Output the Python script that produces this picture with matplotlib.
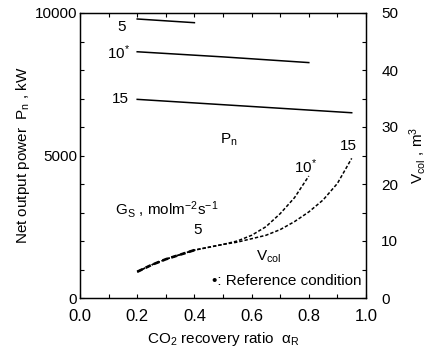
import matplotlib
matplotlib.use("Agg")
import matplotlib.pyplot as plt

plt.rcParams['font.family'] = ['Liberation Sans', 'DejaVu Sans']
plt.rcParams['mathtext.fontset'] = 'custom'
plt.rcParams['mathtext.rm'] = 'Liberation Sans'
plt.rcParams['mathtext.it'] = 'Liberation Sans'
plt.rcParams['mathtext.sf'] = 'Liberation Sans'

# Net output power Pn (kW) vs CO2 recovery ratio, for Gs = 5, 10, 15
pn_x5 = [0.2, 0.4]
pn_5 = [9790, 9660]
pn_x10 = [0.2, 0.5, 0.8]
pn_10 = [8640, 8460, 8260]
pn_x15 = [0.2, 0.6, 0.95]
pn_15 = [6970, 6720, 6500]

# Column volume Vcol (m3)
v_x5 = [0.2, 0.25, 0.3, 0.35, 0.4]
v_5 = [4.6, 5.8, 6.8, 7.6, 8.4]
v_x10 = [0.2, 0.25, 0.3, 0.35, 0.4, 0.45, 0.5, 0.55, 0.6, 0.65, 0.7, 0.75, 0.8]
v_10 = [4.6, 5.8, 6.8, 7.6, 8.4, 8.9, 9.4, 10.0, 11.0, 12.5, 14.8, 17.6, 21.4]
v_x15 = [0.2, 0.25, 0.3, 0.35, 0.4, 0.45, 0.5, 0.55, 0.6, 0.65, 0.7, 0.75, 0.8, 0.85, 0.9, 0.95]
v_15 = [4.6, 5.8, 6.8, 7.6, 8.4, 8.9, 9.4, 9.8, 10.4, 11.0, 12.0, 13.4, 15.1, 17.2, 20.1, 24.5]

x_ticks = [0.0, 0.2, 0.4, 0.6, 0.8, 1.0]
pn_ticks = [0, 5000, 10000]
v_ticks = [0, 10, 20, 30, 40, 50]

fig = plt.figure(figsize=(4.31, 3.55), dpi=100)
ax = fig.add_axes([80/431, 1-298/355, 286/431, 285/355])
ax2 = ax.twinx()

lw = 1.1
ax.plot(pn_x5, pn_5, color='black', lw=lw)
ax.plot(pn_x10, pn_10, color='black', lw=lw)
ax.plot(pn_x15, pn_15, color='black', lw=lw)

ds = (0, (2.2, 1.3))
ax2.plot(v_x5, v_5, color='black', lw=1.9, linestyle=ds)
ax2.plot(v_x10, v_10, color='black', lw=1.1, linestyle=ds)
ax2.plot(v_x15, v_15, color='black', lw=1.1, linestyle=ds)

ax.set_xlim(0, 1.0)
ax.set_ylim(0, 10000)
ax2.set_ylim(0, 50)

fs = 11
ax.set_xticks(x_ticks)
ax.set_xticklabels([f"{t:.1f}" for t in x_ticks], fontsize=12)
ax.set_xticks([0.1, 0.3, 0.5, 0.7, 0.9], minor=True)
ax.set_yticks(pn_ticks)
ax.set_yticklabels([str(t) for t in pn_ticks], fontsize=fs)
ax.set_yticks([1000, 2000, 3000, 4000, 6000, 7000, 8000, 9000], minor=True)
ax2.set_yticks(v_ticks)
ax2.set_yticklabels([str(t) for t in v_ticks], fontsize=fs)
ax2.set_yticks([5, 15, 25, 35, 45], minor=True)

ax.tick_params(axis='both', which='both', direction='in', length=3, width=0.8)
ax.tick_params(axis='x', which='both', top=True, labeltop=False)
ax.tick_params(axis='x', which='major', pad=8)
ax.tick_params(axis='y', which='major', pad=2)
ax2.tick_params(axis='y', which='both', direction='in', length=3, width=0.8, pad=11)

for a in (ax, ax2):
    for s in a.spines.values():
        s.set_linewidth(0.9)

ax.set_xlabel(r"CO$_2$ recovery ratio  $\alpha_R$", fontsize=fs, labelpad=4)
ax.set_ylabel(r"Net output power  P$_n$ , kW", fontsize=fs, labelpad=2)
ax2.set_ylabel(r"V$_{col}$ , m$^3$", fontsize=fs, labelpad=6)

tk = dict(fontsize=fs, color='black')
ax.text(0.147, 9510, "5", ha='center', va='center', **tk)
ax.text(0.133, 8600, r"10$^{*}$", ha='center', va='center', **tk)
ax.text(0.14, 6980, "15", ha='center', va='center', **tk)
ax.text(0.52, 5540, r"P$_n$", ha='center', va='center', **tk)
ax.text(0.94, 5330, "15", ha='center', va='center', **tk)
ax.text(0.79, 4600, r"10$^{*}$", ha='center', va='center', **tk)
ax.text(0.122, 3090, r"G$_S$ , molm$^{-2}$s$^{-1}$", ha='left', va='center', **tk)
ax.text(0.41, 2390, "5", ha='center', va='center', **tk)
ax.text(0.66, 1440, r"V$_{col}$", ha='center', va='center', **tk)
ax.text(0.985, 600, "•: Reference condition", ha='right', va='center', **tk)

fig.savefig("out.png", dpi=100)
